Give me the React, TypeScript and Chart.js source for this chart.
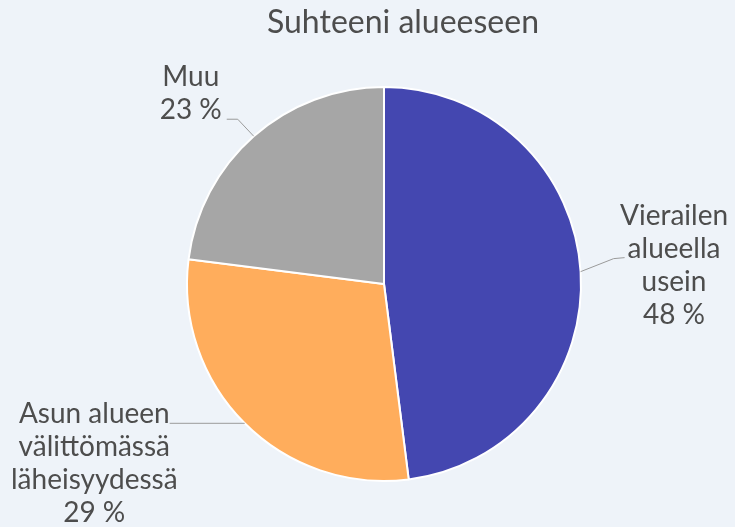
import React, { useEffect, useRef } from "react";
import { Chart, registerables } from "chart.js";

Chart.register(...registerables);

const chartTitle = "Suhteeni alueeseen";
const categories = [
  "Vierailen alueella usein",
  "Asun alueen välittömässä läheisyydessä",
  "Muu",
];
const labelLines = [
  ["Vierailen", "alueella", "usein"],
  ["Asun alueen", "välittömässä", "läheisyydessä"],
  ["Muu"],
];
const shares = [48, 29, 23];
const sliceColors = ["#4447b0", "#ffad5c", "#a6a6a6"];

// connector geometry relative to slice edge point (layout only)
const labelLayout = [
  { elbow: [33, -13], end: [44, -14], side: "right", anchorLine: 1, gap: 3 },
  { elbow: null, end: [-75, 0], side: "left", anchorLine: 0, gap: 0 },
  { elbow: [-16, -17], end: [-27, -17], side: "left", anchorLine: 1, gap: 5 },
];

const TEXT_COLOR = "#4d4d4d";
const LABEL_FONT = "28px Lato";
const LINE_H = 33;

const labelPlugin = {
  id: "pieLabels",
  afterDraw(chart: any) {
    const ctx = chart.ctx;
    ctx.save();
    // title
    ctx.font = "32px Lato";
    ctx.fillStyle = TEXT_COLOR;
    ctx.textAlign = "center";
    ctx.textBaseline = "alphabetic";
    ctx.fillText(chartTitle, 403, 33);

    const meta = chart.getDatasetMeta(0);
    meta.data.forEach((arc: any, i: number) => {
      const p = arc.getProps(["x", "y", "startAngle", "endAngle", "outerRadius"], true);
      const mid = (p.startAngle + p.endAngle) / 2;
      const px = p.x + Math.cos(mid) * p.outerRadius;
      const py = p.y + Math.sin(mid) * p.outerRadius;
      const lay = labelLayout[i];
      ctx.strokeStyle = "#9a9a9a";
      ctx.lineWidth = 1;
      ctx.beginPath();
      ctx.moveTo(px, py);
      if (lay.elbow) ctx.lineTo(px + lay.elbow[0], py + lay.elbow[1]);
      const ex = px + lay.end[0];
      const ey = py + lay.end[1];
      ctx.lineTo(ex, ey);
      ctx.stroke();

      const lines = [...labelLines[i], `${shares[i]}\u202F%`];
      ctx.font = LABEL_FONT;
      ctx.fillStyle = TEXT_COLOR;
      ctx.textAlign = "center";
      const aw = ctx.measureText(lines[lay.anchorLine]).width;
      const cx = lay.side === "right" ? ex + lay.gap + aw / 2 : ex - lay.gap - aw / 2;
      lines.forEach((t, k) => {
        ctx.fillText(t, cx, ey + (k - lay.anchorLine) * LINE_H);
      });
    });
    ctx.restore();
  },
};

export default function App() {
  const ref = useRef<HTMLCanvasElement>(null);
  useEffect(() => {
    document.body.style.margin = "0";
    const chart = new Chart(ref.current!, {
      type: "pie",
      data: {
        labels: categories,
        datasets: [
          {
            data: shares,
            backgroundColor: sliceColors,
            borderColor: "#ffffff",
            borderWidth: 2,
          },
        ],
      },
      options: {
        responsive: false,
        animation: false,
        devicePixelRatio: 1,
        layout: { padding: { left: 186, right: 153, top: 86, bottom: 45 } },
        plugins: {
          legend: { display: false },
          title: { display: false },
          tooltip: { enabled: false },
        },
      },
      plugins: [labelPlugin],
    });
    return () => chart.destroy();
  }, []);
  return (
    <div style={{ position: "fixed", left: 0, top: 0, width: 735, height: 527, background: "#eef3f9" }}>
      <canvas ref={ref} width={735} height={527} />
    </div>
  );
}
